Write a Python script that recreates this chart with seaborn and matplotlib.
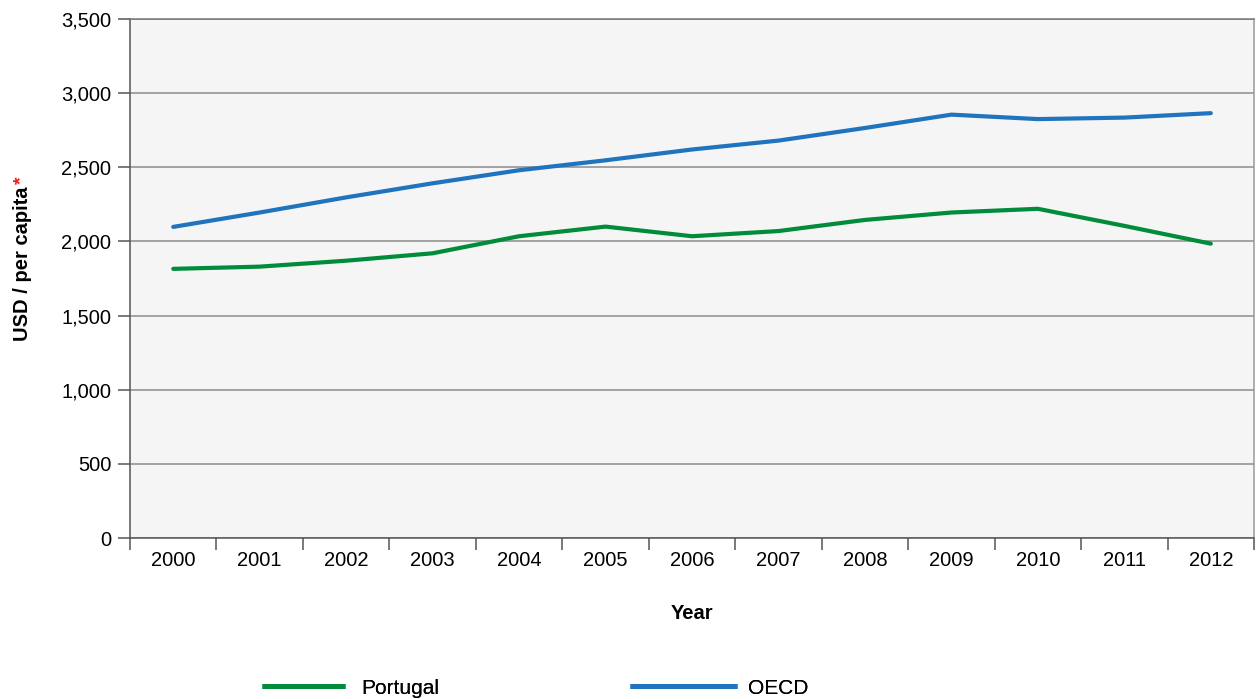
import matplotlib
matplotlib.use("Agg")
import matplotlib.pyplot as plt
import matplotlib.ticker as mticker
import seaborn as sns
import pandas as pd

years = ["2000", "2001", "2002", "2003", "2004", "2005", "2006",
         "2007", "2008", "2009", "2010", "2011", "2012"]
portugal = [1815, 1830, 1870, 1920, 2035, 2100, 2035, 2070, 2145, 2195, 2220, 2105, 1985]
oecd = [2098, 2195, 2297, 2392, 2480, 2547, 2620, 2680, 2765, 2855, 2825, 2835, 2865]
series = ["Portugal", "OECD"]
colors = ["#008C3A", "#1F74BD"]
yticks = [0, 500, 1000, 1500, 2000, 2500, 3000, 3500]

# long form table for seaborn
df = pd.DataFrame({
    "pos": list(range(len(years))) * 2,
    "value": portugal + oecd,
    "series": [series[0]] * len(years) + [series[1]] * len(years),
})

sns.set_theme(style="white")
plt.rcParams["font.family"] = ["Liberation Sans", "DejaVu Sans"]
plt.rcParams["text.color"] = "black"
plt.rcParams["xtick.labelcolor"] = "black"
plt.rcParams["ytick.labelcolor"] = "black"
plt.rcParams["axes.labelcolor"] = "black"

fig = plt.figure(figsize=(12.59, 6.99), dpi=100)
ax = fig.add_axes([130 / 1259, 1 - 538 / 699, 1124 / 1259, 519 / 699])
ax.set_facecolor("#F5F5F5")

sns.lineplot(data=df, x="pos", y="value", hue="series", palette=colors,
             linewidth=3.0, ax=ax, legend=False, zorder=3)

ax.set_xlim(-0.5, len(years) - 0.5)
ax.set_ylim(0, 3500)
ax.set_yticks(yticks)
ax.yaxis.set_major_formatter(mticker.FuncFormatter(lambda v, p: f"{int(v):,}"))
ax.grid(axis="y", color="#8C8C8C", linewidth=1.1, zorder=1)
ax.set_axisbelow(True)

# category boundaries as ticks, labels in the middle
ax.set_xticks([i - 0.5 for i in range(len(years) + 1)])
ax.set_xticklabels([])
ax.set_xticks(list(range(len(years))), minor=True)
ax.set_xticklabels(years, minor=True)
ax.tick_params(axis="x", which="major", direction="out", length=8.5, width=1.1,
               color="#555555", bottom=True)
ax.tick_params(axis="x", which="minor", length=0, pad=9, labelsize=14.5)
ax.tick_params(axis="y", direction="out", length=8.5, width=1.1, color="#555555",
               left=True, pad=5, labelsize=14.5)

for s in ax.spines.values():
    s.set_color("#555555")
    s.set_linewidth(1.1)
ax.spines["right"].set_color("#999999")
ax.spines["top"].set_color("#777777")

ax.set_xlabel("Year", fontsize=14.5, fontweight="bold", labelpad=25)
ax.set_ylabel("")

fig.text(23 / 1259, 1 - 264 / 699, "USD / per capita", rotation=90,
         ha="center", va="center", fontsize=14.5, fontweight="bold")
fig.text(22 / 1259, 1 - 180 / 699, "*", rotation=90, color="#E8211A",
         ha="center", va="center", fontsize=14, fontweight="bold")

# two one-entry legends, the reference spaces them unevenly
leg_x = [262, 630]
leg_len = [4.0, 5.15]
leg_pad = [0.75, 0.5]
for i in range(len(series)):
    h = plt.Line2D([], [], color=colors[i], linewidth=3.6, solid_capstyle="butt")
    lg = fig.legend([h], [series[i]], loc="center left",
                    bbox_to_anchor=(leg_x[i] / 1259, 1 - 688 / 699),
                    frameon=False, fontsize=15, handlelength=leg_len[i],
                    handletextpad=leg_pad[i], borderpad=0, borderaxespad=0)
    fig.add_artist(lg)

fig.savefig("out.png", dpi=100)
